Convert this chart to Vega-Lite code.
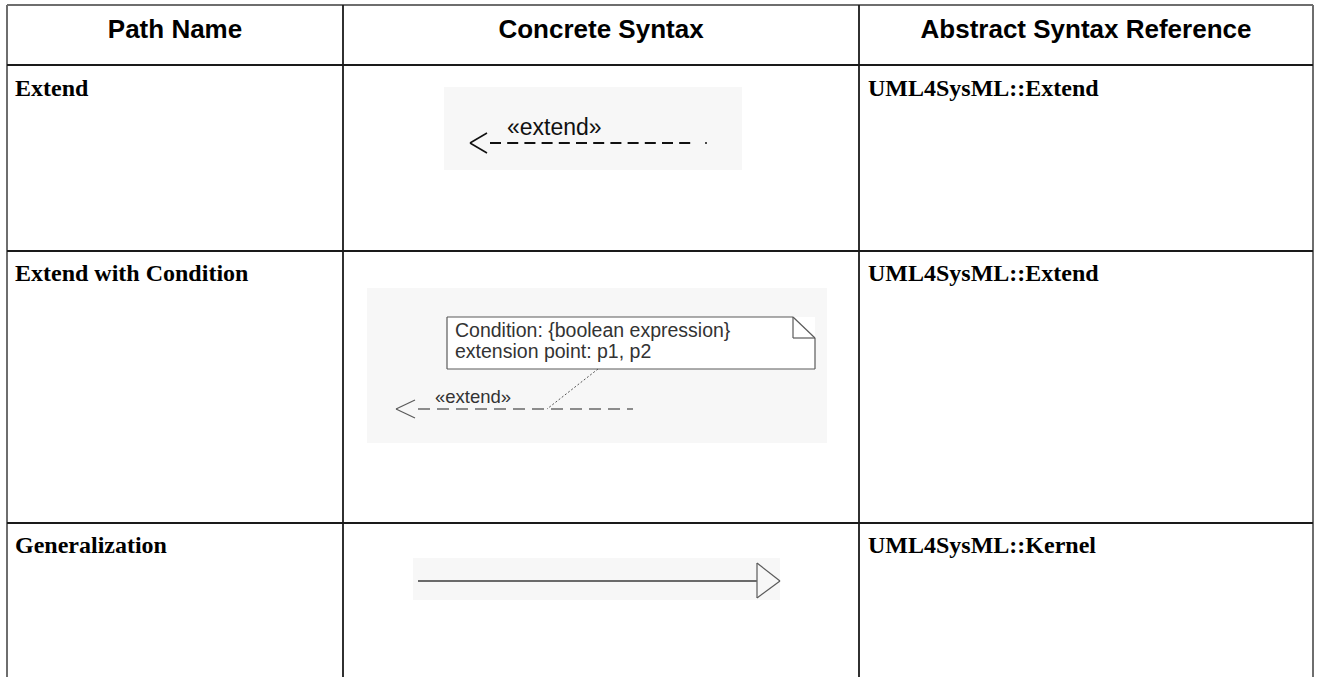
{
  "$schema": "https://vega.github.io/schema/vega-lite/v6.json",
  "width": 1317,
  "height": 677,
  "autosize": "none",
  "padding": 0,
  "background": "white",
  "config": {"view": {"stroke": null}},
  "datasets": {
    "segments": [
      {"x": 7, "y": 5, "x2": 1313, "y2": 5, "kind": "border"},
      {"x": 7, "y": 5, "x2": 7, "y2": 677, "kind": "border"},
      {"x": 1313, "y": 5, "x2": 1313, "y2": 677, "kind": "border"},
      {"x": 7, "y": 65, "x2": 1313, "y2": 65, "kind": "grid"},
      {"x": 7, "y": 251, "x2": 1313, "y2": 251, "kind": "grid"},
      {"x": 7, "y": 523, "x2": 1313, "y2": 523, "kind": "grid"},
      {"x": 343, "y": 5, "x2": 343, "y2": 677, "kind": "grid"},
      {"x": 859, "y": 5, "x2": 859, "y2": 677, "kind": "grid"},
      {"x": 487, "y": 133, "x2": 470, "y2": 143, "kind": "arrowBlack"},
      {"x": 470, "y": 143, "x2": 487, "y2": 153, "kind": "arrowBlack"},
      {"x": 490, "y": 143, "x2": 696, "y2": 143, "kind": "dashBlack"},
      {"x": 705, "y": 143, "x2": 707, "y2": 143, "kind": "arrowBlack"},
      {"x": 447, "y": 317, "x2": 793, "y2": 317, "kind": "gray"},
      {"x": 793, "y": 317, "x2": 815, "y2": 338, "kind": "gray"},
      {"x": 815, "y": 338, "x2": 815, "y2": 369, "kind": "gray"},
      {"x": 815, "y": 369, "x2": 447, "y2": 369, "kind": "gray"},
      {"x": 447, "y": 369, "x2": 447, "y2": 317, "kind": "gray"},
      {"x": 793, "y": 317, "x2": 793, "y2": 338, "kind": "gray"},
      {"x": 793, "y": 338, "x2": 815, "y2": 338, "kind": "gray"},
      {"x": 598, "y": 369, "x2": 547, "y2": 409, "kind": "dotted"},
      {"x": 418, "y": 409, "x2": 633, "y2": 409, "kind": "dashGray"},
      {"x": 415, "y": 400, "x2": 396, "y2": 409, "kind": "gray"},
      {"x": 396, "y": 409, "x2": 415, "y2": 418, "kind": "gray"},
      {"x": 418, "y": 581, "x2": 757, "y2": 581, "kind": "grayThick"},
      {"x": 757, "y": 563, "x2": 780, "y2": 581, "kind": "gray"},
      {"x": 780, "y": 581, "x2": 757, "y2": 598, "kind": "gray"},
      {"x": 757, "y": 598, "x2": 757, "y2": 563, "kind": "gray"}
    ],
    "rects": [
      {"x": 444, "y": 87, "x2": 742, "y2": 170, "kind": "bg"},
      {"x": 367, "y": 288, "x2": 827, "y2": 443, "kind": "bg"},
      {"x": 413, "y": 558, "x2": 780, "y2": 600, "kind": "bg"},
      {"x": 447, "y": 317, "x2": 815, "y2": 369, "kind": "note"}
    ],
    "texts": [
      {"x": 175, "y": 38, "text": "Path Name", "role": "header"},
      {"x": 601, "y": 38, "text": "Concrete Syntax", "role": "header"},
      {"x": 1086, "y": 38, "text": "Abstract Syntax Reference", "role": "header"},
      {"x": 15, "y": 96, "text": "Extend", "role": "label"},
      {"x": 15, "y": 281, "text": "Extend with Condition", "role": "label"},
      {"x": 15, "y": 553, "text": "Generalization", "role": "label"},
      {"x": 868, "y": 96, "text": "UML4SysML::Extend", "role": "label"},
      {"x": 868, "y": 281, "text": "UML4SysML::Extend", "role": "label"},
      {"x": 868, "y": 553, "text": "UML4SysML::Kernel", "role": "label"},
      {"x": 507, "y": 135, "text": "«extend»", "role": "big"},
      {"x": 455, "y": 337, "text": "Condition: {boolean expression}", "role": "note"},
      {"x": 455, "y": 358, "text": "extension point: p1, p2", "role": "note"},
      {"x": 435, "y": 403, "text": "«extend»", "role": "small"}
    ]
  },
  "encoding": {
    "x": {"field": "x", "type": "quantitative", "scale": {"domain": [0, 1317], "nice": false, "zero": false}, "axis": null},
    "y": {"field": "y", "type": "quantitative", "scale": {"domain": [0, 677], "nice": false, "zero": false, "reverse": true}, "axis": null}
  },
  "layer": [
    {
      "data": {"name": "rects"},
      "transform": [{"filter": "datum.kind === 'bg'"}],
      "mark": {"type": "rect", "fill": "#f7f7f7", "stroke": null},
      "encoding": {"x2": {"field": "x2"}, "y2": {"field": "y2"}}
    },
    {
      "data": {"name": "rects"},
      "transform": [{"filter": "datum.kind === 'note'"}],
      "mark": {"type": "rect", "fill": "#ffffff", "stroke": null},
      "encoding": {"x2": {"field": "x2"}, "y2": {"field": "y2"}}
    },
    {
      "data": {"name": "segments"},
      "transform": [{"filter": "datum.kind === 'border'"}],
      "mark": {"type": "rule", "stroke": "#6e6e6e", "strokeWidth": 2},
      "encoding": {"x2": {"field": "x2"}, "y2": {"field": "y2"}}
    },
    {
      "data": {"name": "segments"},
      "transform": [{"filter": "datum.kind === 'grid'"}],
      "mark": {"type": "rule", "stroke": "#1a1a1a", "strokeWidth": 1.8},
      "encoding": {"x2": {"field": "x2"}, "y2": {"field": "y2"}}
    },
    {
      "data": {"name": "segments"},
      "transform": [{"filter": "datum.kind === 'arrowBlack'"}],
      "mark": {"type": "rule", "stroke": "#111111", "strokeWidth": 1.5},
      "encoding": {"x2": {"field": "x2"}, "y2": {"field": "y2"}}
    },
    {
      "data": {"name": "segments"},
      "transform": [{"filter": "datum.kind === 'dashBlack'"}],
      "mark": {"type": "rule", "stroke": "#111111", "strokeWidth": 2, "strokeDash": [11, 6.2]},
      "encoding": {"x2": {"field": "x2"}, "y2": {"field": "y2"}}
    },
    {
      "data": {"name": "segments"},
      "transform": [{"filter": "datum.kind === 'gray'"}],
      "mark": {"type": "rule", "stroke": "#5a5a5a", "strokeWidth": 1.2},
      "encoding": {"x2": {"field": "x2"}, "y2": {"field": "y2"}}
    },
    {
      "data": {"name": "segments"},
      "transform": [{"filter": "datum.kind === 'grayThick'"}],
      "mark": {"type": "rule", "stroke": "#6a6a6a", "strokeWidth": 2},
      "encoding": {"x2": {"field": "x2"}, "y2": {"field": "y2"}}
    },
    {
      "data": {"name": "segments"},
      "transform": [{"filter": "datum.kind === 'dashGray'"}],
      "mark": {"type": "rule", "stroke": "#6a6a6a", "strokeWidth": 1.3, "strokeDash": [12, 7]},
      "encoding": {"x2": {"field": "x2"}, "y2": {"field": "y2"}}
    },
    {
      "data": {"name": "segments"},
      "transform": [{"filter": "datum.kind === 'dotted'"}],
      "mark": {"type": "rule", "stroke": "#555555", "strokeWidth": 1, "strokeDash": [2, 2]},
      "encoding": {"x2": {"field": "x2"}, "y2": {"field": "y2"}}
    },
    {
      "data": {"name": "texts"},
      "transform": [{"filter": "datum.role === 'header'"}],
      "mark": {"type": "text", "font": "Liberation Sans", "fontWeight": "bold", "fontSize": 26, "align": "center", "baseline": "alphabetic", "color": "#000000"},
      "encoding": {"text": {"field": "text"}}
    },
    {
      "data": {"name": "texts"},
      "transform": [{"filter": "datum.role === 'label'"}],
      "mark": {"type": "text", "font": "Liberation Serif", "fontWeight": "bold", "fontSize": 24, "align": "left", "baseline": "alphabetic", "color": "#000000"},
      "encoding": {"text": {"field": "text"}}
    },
    {
      "data": {"name": "texts"},
      "transform": [{"filter": "datum.role === 'big'"}],
      "mark": {"type": "text", "font": "Liberation Sans", "fontSize": 23, "align": "left", "baseline": "alphabetic", "color": "#111111"},
      "encoding": {"text": {"field": "text"}}
    },
    {
      "data": {"name": "texts"},
      "transform": [{"filter": "datum.role === 'note'"}],
      "mark": {"type": "text", "font": "Liberation Sans", "fontSize": 19.5, "align": "left", "baseline": "alphabetic", "color": "#333333"},
      "encoding": {"text": {"field": "text"}}
    },
    {
      "data": {"name": "texts"},
      "transform": [{"filter": "datum.role === 'small'"}],
      "mark": {"type": "text", "font": "Liberation Sans", "fontSize": 18.5, "align": "left", "baseline": "alphabetic", "color": "#333333"},
      "encoding": {"text": {"field": "text"}}
    }
  ]
}
